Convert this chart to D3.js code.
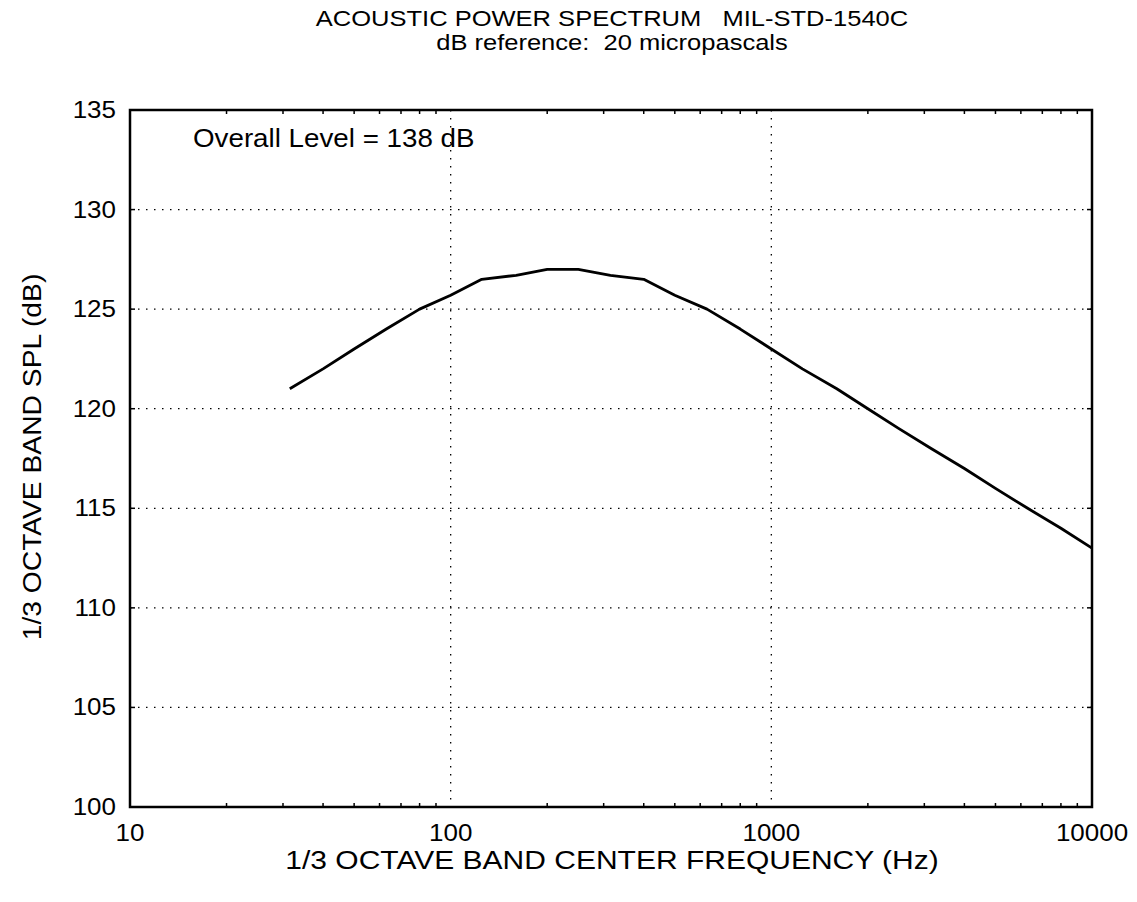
<!DOCTYPE html>
<html>
<head>
<meta charset="utf-8">
<script src="https://cdn.jsdelivr.net/npm/d3@7"></script>
<style>
  body { margin: 0; background: #fff; }
  text { font-family: "Liberation Sans", Arial, sans-serif; fill: #000; white-space: pre; }
</style>
</head>
<body>
<script>
// 1/3 octave band centre frequencies (Hz) and levels (dB)
var freqs = [31.5, 40, 50, 63, 80, 100, 125, 160, 200, 250, 315, 400, 500, 630,
  800, 1000, 1250, 1600, 2000, 2500, 3150, 4000, 5000, 6300, 8000, 10000];
var levels = [121, 122, 123, 124, 125, 125.7, 126.5, 126.7, 127, 127, 126.7, 126.5, 125.7, 125,
  124, 123, 122, 121, 120, 119, 118, 117, 116, 115, 114, 113];
var xTicks = [10, 100, 1000, 10000];
var yTicks = [100, 105, 110, 115, 120, 125, 130, 135];
var titleLines = ["ACOUSTIC POWER SPECTRUM   MIL-STD-1540C", "dB reference:  20 micropascals"];

var W = 1137, H = 902;
var pLeft = 130, pRight = 1092, pTop = 110, pBottom = 807;

var svg = d3.select("body").append("svg")
  .attr("width", W).attr("height", H);

var x = d3.scaleLog().domain([10, 10000]).range([pLeft, pRight]);
var y = d3.scaleLinear().domain([100, 135]).range([pBottom, pTop]);

// text in the original is a bit wider than Liberation Sans, so stretch it sideways
function label(g, tx, ty, str, size, sx, anchor, rot) {
  var t = "translate(" + tx + "," + ty + ")" + (rot ? " rotate(" + rot + ")" : "") + " scale(" + sx + ",1)";
  return g.append("text")
    .attr("transform", t)
    .attr("text-anchor", anchor || "start")
    .style("font-size", size + "px")
    .text(str);
}

// grid lines (dotted)
svg.append("g").selectAll("line")
  .data(xTicks.slice(1, -1))
  .enter().append("line")
  .attr("x1", d => x(d)).attr("x2", d => x(d))
  .attr("y1", pTop).attr("y2", pBottom)
  .attr("stroke", "#000").attr("stroke-width", 1.3)
  .attr("stroke-dasharray", "1.5,6.5");

svg.append("g").selectAll("line")
  .data(yTicks.slice(1, -1))
  .enter().append("line")
  .attr("x1", pLeft).attr("x2", pRight)
  .attr("y1", d => y(d)).attr("y2", d => y(d))
  .attr("stroke", "#000").attr("stroke-width", 1.3)
  .attr("stroke-dasharray", "1.5,6.5");

// minor log ticks on top and bottom
var minor = [];
[10, 100, 1000].forEach(function(dec) {
  for (var k = 2; k <= 9; k++) minor.push(dec * k);
});
svg.append("g").selectAll("line")
  .data(minor).enter().append("line")
  .attr("x1", d => x(d)).attr("x2", d => x(d))
  .attr("y1", pBottom).attr("y2", pBottom - 4)
  .attr("stroke", "#000").attr("stroke-width", 1.5);
svg.append("g").selectAll("line")
  .data(minor).enter().append("line")
  .attr("x1", d => x(d)).attr("x2", d => x(d))
  .attr("y1", pTop).attr("y2", pTop + 4)
  .attr("stroke", "#000").attr("stroke-width", 1.5);

// major y ticks left and right
svg.append("g").selectAll("line")
  .data(yTicks).enter().append("line")
  .attr("x1", pLeft).attr("x2", pLeft + 5)
  .attr("y1", d => y(d)).attr("y2", d => y(d))
  .attr("stroke", "#000").attr("stroke-width", 1.5);
svg.append("g").selectAll("line")
  .data(yTicks).enter().append("line")
  .attr("x1", pRight).attr("x2", pRight - 5)
  .attr("y1", d => y(d)).attr("y2", d => y(d))
  .attr("stroke", "#000").attr("stroke-width", 1.5);

// frame
svg.append("rect")
  .attr("x", pLeft).attr("y", pTop)
  .attr("width", pRight - pLeft).attr("height", pBottom - pTop)
  .attr("fill", "none").attr("stroke", "#000").attr("stroke-width", 2.5);

// tick labels
var tickG = svg.append("g");
yTicks.forEach(function(d) {
  label(tickG, pLeft - 14, y(d) + 8, d, 23, 1.13, "end");
});
xTicks.forEach(function(d) {
  label(tickG, x(d), pBottom + 34, d, 23, 1.13, "middle");
});

// the spectrum line
var line = d3.line()
  .x(function(d, i) { return x(freqs[i]); })
  .y(function(d) { return y(d); });

svg.append("path")
  .datum(levels)
  .attr("d", line)
  .attr("fill", "none")
  .attr("stroke", "#000")
  .attr("stroke-width", 2.8)
  .attr("stroke-linejoin", "round");

// titles
titleLines.forEach(function(t, i) {
  label(svg, 612, 26 + i * 24, t, 22, 1.16, "middle");
});

label(svg, 612, 869, "1/3 OCTAVE BAND CENTER FREQUENCY (Hz)", 25, 1.2, "middle");
label(svg, 41, 457, "1/3 OCTAVE BAND SPL (dB)", 25, 1.13, "middle", -90);
label(svg, 193, 147, "Overall Level = 138 dB", 25, 1.11, "start");
</script>
</body>
</html>
